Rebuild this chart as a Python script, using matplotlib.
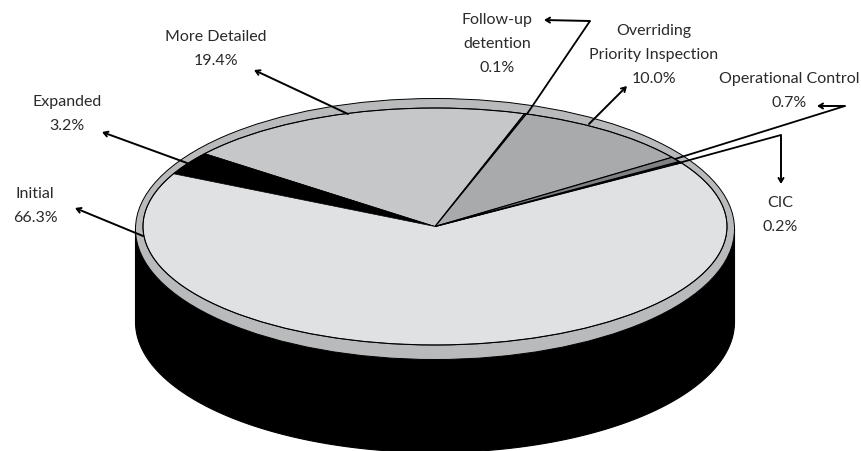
import numpy as np
import matplotlib
matplotlib.use('Agg')
import matplotlib.pyplot as plt
from matplotlib.patches import Polygon, Ellipse

labels = ['CIC', 'Operational Control', 'Overriding\nPriority Inspection',
          'Follow-up\ndetention', 'More Detailed', 'Expanded', 'Initial']
shares = [0.2, 0.7, 10.0, 0.1, 19.4, 3.2, 66.3]
colors = ['#3c3c3e', '#808184', '#a9aaac', '#58595b', '#c6c7c9', '#000000', '#e0e1e3']

label_pos = [(780, 215), (789, 91), (654, 55), (497, 44), (216, 49), (67, 114), (35, 206)]
# leader lines, start on the pie and end at the arrow head
leaders = [
    [(675, 165), (781, 136), (781, 185)],
    [(675, 160), (845, 107), (817, 107)],
    [(589, 125), (627, 87)],
    [(527, 115), (590, 22), (544, 21)],
    [(348, 115), (254, 71)],
    [(187, 164), (102, 133)],
    [(143, 237), (75, 209)],
]

# outer rim and inner top are not concentric
cx, cy = 435, 230
rx, ry = 299.5, 130.5
cx_in, cy_in = 435, 227.5
rx_in, ry_in = 292, 118.5
depth = 93
start = 32.5

plt.rcParams['font.family'] = ['Lato', 'DejaVu Sans']
fig = plt.figure(figsize=(8.62, 4.52), dpi=100)
ax = fig.add_axes([0, 0, 1, 1])
ax.set_xlim(0, 862)
ax.set_ylim(452, 0)
ax.axis('off')

# side of the cylinder
t = np.linspace(0, np.pi, 200)
side = np.r_[np.c_[cx + rx*np.cos(t), cy + ry*np.sin(t) + depth],
             np.c_[cx - rx*np.cos(t), cy + ry*np.sin(t)]]
ax.add_patch(Polygon(side, closed=True, fc='black', ec='black', lw=0.8))

# rim and top
ax.add_patch(Ellipse((cx, cy), 2*rx, 2*ry, fc='#b9babc', ec='black', lw=0.7))

angle = start
for share, col in zip(shares, colors):
    span = share / sum(shares) * 360
    a = np.radians(np.linspace(angle, angle + span, 200))
    pts = np.c_[cx_in + rx_in*np.cos(a), cy_in - ry_in*np.sin(a)]
    pts = np.r_[[[cx_in, cy_in]], pts]
    # the thin slices get a heavier edge and go on top
    thin = share < 1
    ax.add_patch(Polygon(pts, closed=True, fc=col, ec='black', lw=0.9 if thin else 0.5,
                         joinstyle='miter', zorder=3 if thin else 2))
    angle += span
ax.add_patch(Ellipse((cx_in, cy_in), 2*rx_in, 2*ry_in, fc='none', ec='black', lw=0.8, zorder=4))

for name, share, pos, line in zip(labels, shares, label_pos, leaders):
    ax.text(pos[0], pos[1], f'{name}\n{share:.1f}%', ha='center', va='center',
            fontsize=11.5, color='#2a2a2a', linespacing=1.9)
    if len(line) > 2:
        xs, ys = zip(*line[:-1])
        ax.plot(xs, ys, color='black', lw=1.3, solid_capstyle='butt', zorder=5)
    ax.annotate('', xy=line[-1], xytext=line[-2], zorder=5,
                arrowprops=dict(arrowstyle='->,head_length=0.3,head_width=0.18',
                                color='black', lw=1.4, shrinkA=0, shrinkB=0))

fig.savefig('out.png', dpi=100)
